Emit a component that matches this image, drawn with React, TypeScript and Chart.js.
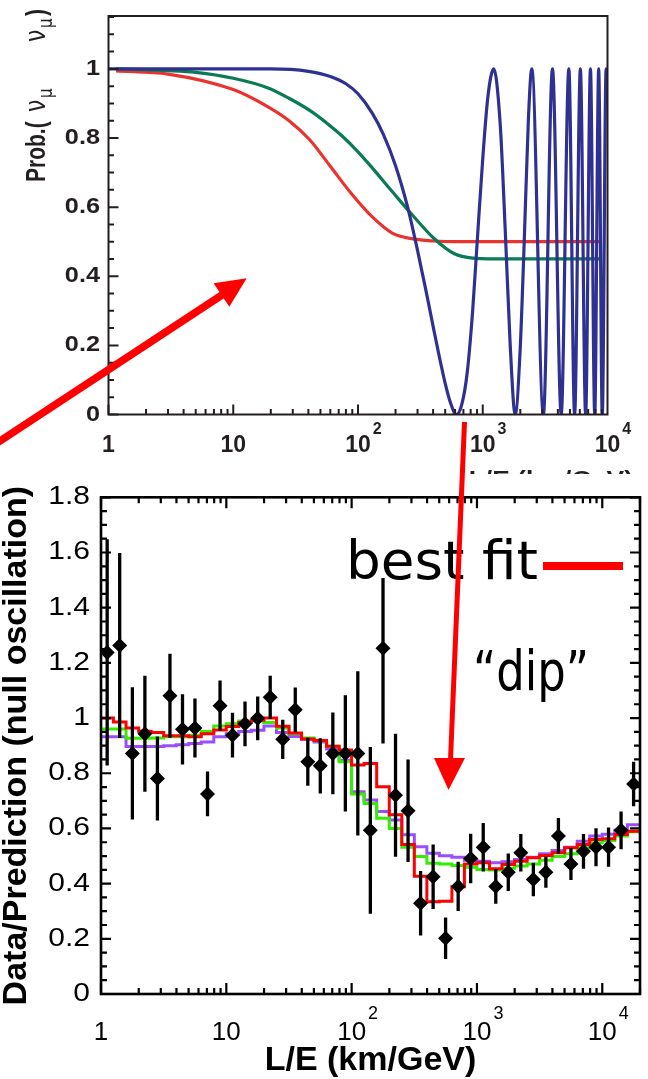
import React, { useEffect, useRef } from 'react';
import { Chart, registerables } from 'chart.js';

Chart.register(...registerables);

// ================= Upper panel: survival probability vs L/E =================
const BLUE_LE = [1, 20, 40, 60, 80, 100, 130, 160, 200, 250, 300, 350, 400, 450, 500, 550, 615, 680, 750, 830, 910, 1000, 1100, 1225, 1380, 1520, 1660, 1821, 1990, 2150, 2320, 2473, 3062, 3622, 4255, 4900, 5450, 6060, 6680, 7300, 7900, 8500, 9080, 9750, 10000];
const BLUE_P = [1, 1, 0.993, 0.978, 0.957, 0.928, 0.872, 0.81, 0.72, 0.6, 0.475, 0.36, 0.255, 0.165, 0.09, 0.035, 0, 0.03, 0.12, 0.3, 0.52, 0.74, 0.92, 1, 0.84, 0.52, 0.2, 0, 0.18, 0.5, 0.85, 1, 0, 1, 0, 1, 0, 1, 0, 1, 0, 1, 0, 1, 0.95];

const GREEN_LE = [1.15, 3, 5, 10, 19, 28, 43, 60, 75, 100, 129, 188, 276, 405, 593, 870, 1500, 8600];
const GREEN_P = [1, 0.995, 0.99, 0.973, 0.945, 0.915, 0.875, 0.835, 0.805, 0.76, 0.715, 0.645, 0.575, 0.51, 0.465, 0.452, 0.45, 0.45];

const RED_LE = [1.15, 3, 10, 19, 28, 41, 60, 88, 129, 188, 276, 405, 600, 8600];
const RED_P = [0.994, 0.985, 0.94, 0.89, 0.85, 0.795, 0.718, 0.64, 0.573, 0.525, 0.508, 0.502, 0.5, 0.5];

const TOP_Y_TICKS = [0, 0.2, 0.4, 0.6, 0.8, 1];
const TOP_Y_LABELS = ['0', '0.2', '0.4', '0.6', '0.8', '1'];
const DECADES = [1, 10, 100, 1000, 10000];
const DECADE_BASE = ['1', '10', '10', '10', '10'];
const DECADE_EXP = ['', '', '2', '3', '4'];

// ================= Lower panel: Data / Prediction (null oscillation) =================
const BIN_LE = [1.12, 1.41, 1.78, 2.24, 2.82, 3.55, 4.47, 5.62, 7.08, 8.91, 11.2, 14.1, 17.8, 22.4, 28.2, 35.5, 44.7, 56.2, 70.8, 89.1, 112, 141, 178, 224, 282, 355, 447, 562, 708, 891, 1122, 1413, 1778, 2239, 2818, 3548, 4467, 5623, 7079, 8913, 11220, 14125, 17783];
const DATA_RATIO = [1.238, 1.263, 0.872, 0.943, 0.781, 1.081, 0.959, 0.964, 0.725, 1.045, 0.938, 0.979, 0.999, 1.075, 0.923, 1.03, 0.842, 0.827, 0.872, 0.872, 0.872, 0.593, 1.253, 0.72, 0.664, 0.329, 0.425, 0.202, 0.39, 0.491, 0.532, 0.39, 0.441, 0.512, 0.415, 0.441, 0.573, 0.471, 0.517, 0.532, 0.532, 0.593, 0.761];
const DATA_ERR = [0.41, 0.335, 0.24, 0.21, 0.152, 0.152, 0.127, 0.107, 0.081, 0.091, 0.081, 0.081, 0.079, 0.078, 0.071, 0.081, 0.087, 0.1, 0.148, 0.211, 0.298, 0.302, 0.345, 0.223, 0.186, 0.117, 0.117, 0.075, 0.089, 0.09, 0.088, 0.063, 0.068, 0.068, 0.061, 0.056, 0.065, 0.058, 0.063, 0.069, 0.071, 0.068, 0.081];
const FIT_RED = [1.0, 0.986, 0.964, 0.952, 0.948, 0.936, 0.936, 0.932, 0.943, 0.957, 0.969, 0.984, 0.992, 1.0, 0.97, 0.946, 0.924, 0.919, 0.898, 0.884, 0.83, 0.835, 0.751, 0.65, 0.542, 0.427, 0.334, 0.336, 0.389, 0.471, 0.476, 0.454, 0.469, 0.481, 0.494, 0.502, 0.512, 0.53, 0.542, 0.56, 0.563, 0.578, 0.59];
const FIT_GREEN = [0.96, 0.96, 0.927, 0.927, 0.928, 0.932, 0.932, 0.938, 0.951, 0.971, 0.979, 0.989, 0.989, 0.984, 0.964, 0.943, 0.928, 0.918, 0.898, 0.842, 0.725, 0.69, 0.637, 0.6, 0.532, 0.498, 0.474, 0.471, 0.466, 0.459, 0.451, 0.449, 0.456, 0.464, 0.471, 0.485, 0.498, 0.508, 0.53, 0.548, 0.556, 0.573, 0.588];
const FIT_PURPLE = [0.932, 0.932, 0.897, 0.897, 0.897, 0.9, 0.903, 0.908, 0.913, 0.932, 0.943, 0.951, 0.956, 0.971, 0.948, 0.933, 0.923, 0.913, 0.888, 0.847, 0.733, 0.703, 0.661, 0.631, 0.577, 0.534, 0.51, 0.501, 0.496, 0.485, 0.481, 0.476, 0.479, 0.487, 0.496, 0.508, 0.52, 0.532, 0.554, 0.573, 0.579, 0.593, 0.613];

const BOT_Y_TICKS = [0, 0.2, 0.4, 0.6, 0.8, 1, 1.2, 1.4, 1.6, 1.8];
const BOT_Y_LABELS = ['0', '0.2', '0.4', '0.6', '0.8', '1', '1.2', '1.4', '1.6', '1.8'];

const LE_MIN = 1;
const LE_MAX_TOP = 10000;
const LE_MAX_BOT = 20000;

type Pt = { x: number; y: number };
const pairs = (xs: number[], ys: number[]): Pt[] => xs.map((x, i) => ({ x, y: ys[i] }));
const histo = (vals: number[]): Pt[] => [
  { x: LE_MIN, y: vals[0] },
  ...pairs(BIN_LE, vals),
  { x: LE_MAX_BOT, y: vals[vals.length - 1] },
];

const SANS = '"Liberation Sans", Arial, sans-serif';

function drawText(ctx: any, s: string, x: number, y: number, font: string, align: string, baseline: string, sx = 1, color = '#000') {
  ctx.save();
  ctx.translate(x, y);
  ctx.scale(sx, 1);
  ctx.font = font;
  ctx.textAlign = align;
  ctx.textBaseline = baseline;
  ctx.fillStyle = color;
  ctx.fillText(s, 0, 0);
  ctx.restore();
}

function drawDecadeLabel(ctx: any, base: string, exp: string, px: number, baseY: number, font: string, expFont: string, expDy: number, color: string) {
  drawText(ctx, base, px, baseY, font, 'center', 'alphabetic', 1, color);
  if (exp) {
    ctx.save();
    ctx.font = font;
    const w = ctx.measureText(base).width;
    ctx.restore();
    drawText(ctx, exp, px + w / 2 + 2, baseY - expDy, expFont, 'left', 'alphabetic', 1, color);
  }
}

const topFrame = {
  id: 'topFrame',
  afterDraw(chart: any) {
    const { ctx, chartArea: a } = chart;
    const xs = chart.scales.x;
    const ys = chart.scales.y;
    const col = '#231f20';
    ctx.save();
    ctx.strokeStyle = col;
    ctx.lineWidth = 2;
    ctx.beginPath();
    for (let i = 0; i * 0.05 <= 1.151; i++) {
      const py = ys.getPixelForValue(i * 0.05);
      const len = i % 4 === 0 ? 10 : 5.5;
      ctx.moveTo(a.left, py);
      ctx.lineTo(a.left + len, py);
    }
    for (let d = 1; d < LE_MAX_TOP; d *= 10) {
      for (let m = 1; m <= 9; m++) {
        const px = xs.getPixelForValue(d * m);
        const len = m === 1 ? 10 : 5.5;
        ctx.moveTo(px, a.bottom);
        ctx.lineTo(px, a.bottom - len);
      }
    }
    ctx.stroke();
    ctx.strokeRect(a.left, a.top, a.right - a.left, a.bottom - a.top);
    ctx.restore();

    TOP_Y_TICKS.forEach((v, i) =>
      drawText(ctx, TOP_Y_LABELS[i], 100, ys.getPixelForValue(v), `bold 22px ${SANS}`, 'right', 'middle', 1.15, col)
    );
    DECADES.forEach((v, i) =>
      drawDecadeLabel(ctx, DECADE_BASE[i], DECADE_EXP[i], xs.getPixelForValue(v), 452, `bold 23px ${SANS}`, `bold 16px ${SANS}`, 18, col)
    );
    // x title (mostly hidden under the lower panel)
    drawText(ctx, 'L/E (km/GeV)', 633, 486, `bold 22px ${SANS}`, 'right', 'alphabetic', 1.2, col);

    // y title: Prob.(ν_μ → ν_μ) (the arrow is not rendered in the original)
    ctx.save();
    ctx.translate(45, 182);
    ctx.rotate(-Math.PI / 2);
    ctx.scale(1, 1.3);
    ctx.fillStyle = col;
    ctx.textAlign = 'left';
    ctx.textBaseline = 'alphabetic';
    ctx.font = `bold 21px ${SANS}`;
    ctx.fillText('Prob.(', 0, 0);
    ctx.font = '22px "DejaVu Sans", sans-serif';
    ctx.fillText('ν', 70, 0);
    ctx.font = '15px "DejaVu Sans", sans-serif';
    ctx.fillText('μ', 84, 5);
    ctx.font = '22px "DejaVu Sans", sans-serif';
    ctx.fillText('ν', 140, 0);
    ctx.font = '15px "DejaVu Sans", sans-serif';
    ctx.fillText('μ', 154, 5);
    ctx.font = `bold 21px ${SANS}`;
    ctx.fillText(')', 166, 0);
    ctx.restore();
  },
};

const botFrame = {
  id: 'botFrame',
  beforeDatasetDraw(chart: any, args: any) {
    if (args.index !== 0) return;
    const { ctx, chartArea: a } = chart;
    const xs = chart.scales.x;
    const ys = chart.scales.y;
    ctx.save();
    ctx.beginPath();
    ctx.rect(a.left, a.top, a.right - a.left, a.bottom - a.top);
    ctx.clip();
    ctx.strokeStyle = '#000';
    ctx.lineWidth = 3.3;
    ctx.beginPath();
    BIN_LE.forEach((le, i) => {
      const px = xs.getPixelForValue(le);
      ctx.moveTo(px, ys.getPixelForValue(DATA_RATIO[i] - DATA_ERR[i]));
      ctx.lineTo(px, ys.getPixelForValue(DATA_RATIO[i] + DATA_ERR[i]));
    });
    ctx.stroke();
    ctx.restore();
  },
  afterDraw(chart: any) {
    const { ctx, chartArea: a } = chart;
    const xs = chart.scales.x;
    const ys = chart.scales.y;
    ctx.save();
    ctx.strokeStyle = '#000';
    ctx.lineWidth = 2.2;
    ctx.beginPath();
    for (let i = 0; i * 0.05 <= 1.801; i++) {
      const py = ys.getPixelForValue(i * 0.05);
      const len = i % 4 === 0 ? 10 : 6;
      ctx.moveTo(a.left, py);
      ctx.lineTo(a.left + len, py);
      ctx.moveTo(a.right, py);
      ctx.lineTo(a.right - len, py);
    }
    for (let d = 1; d <= LE_MAX_BOT; d *= 10) {
      for (let m = 1; m <= 9; m++) {
        const v = d * m;
        if (v > LE_MAX_BOT) break;
        const px = xs.getPixelForValue(v);
        const len = m === 1 ? 11 : 6;
        ctx.moveTo(px, a.bottom);
        ctx.lineTo(px, a.bottom - len);
        ctx.moveTo(px, a.top);
        ctx.lineTo(px, a.top + len);
      }
    }
    ctx.stroke();
    ctx.lineWidth = 2.6;
    ctx.strokeRect(a.left, a.top, a.right - a.left, a.bottom - a.top);
    ctx.restore();

    BOT_Y_TICKS.forEach((v, i) =>
      drawText(ctx, BOT_Y_LABELS[i], 90, ys.getPixelForValue(v), `25px ${SANS}`, 'right', 'middle', 1.2, '#000')
    );
    DECADES.forEach((v, i) =>
      drawDecadeLabel(ctx, DECADE_BASE[i], DECADE_EXP[i], xs.getPixelForValue(v), 566, `26px ${SANS}`, `18px ${SANS}`, 21.5, '#000')
    );
    drawText(ctx, 'L/E (km/GeV)', (a.left + a.right) / 2, 596, `bold 34px ${SANS}`, 'center', 'alphabetic', 1, '#000');

    ctx.save();
    ctx.translate(26, (a.top + a.bottom) / 2);
    ctx.rotate(-Math.PI / 2);
    ctx.font = `bold 34px ${SANS}`;
    ctx.textAlign = 'center';
    ctx.textBaseline = 'alphabetic';
    ctx.fillStyle = '#000';
    ctx.fillText('Data/Prediction (null oscillation)', 0, 0);
    ctx.restore();
  },
};

export default function App() {
  const topRef = useRef<HTMLCanvasElement>(null);
  const botRef = useRef<HTMLCanvasElement>(null);

  useEffect(() => {
    const lineDs = (data: Pt[], color: string) => ({
      data,
      borderColor: color,
      borderWidth: 3.2,
      pointRadius: 0,
      fill: false,
      cubicInterpolationMode: 'monotone',
    });
    const top = new Chart(topRef.current as HTMLCanvasElement, {
      type: 'line',
      data: {
        datasets: [
          lineDs(pairs(BLUE_LE, BLUE_P), '#2f3192'),
          lineDs(pairs(GREEN_LE, GREEN_P), '#0b7a55'),
          lineDs(pairs(RED_LE, RED_P), '#e8332f'),
        ] as any,
      },
      options: {
        responsive: false,
        animation: false,
        devicePixelRatio: 1,
        events: [],
        layout: { padding: { left: 108.5, right: 40.5, top: 16, bottom: 65.5 } },
        scales: {
          x: { type: 'logarithmic', min: LE_MIN, max: LE_MAX_TOP, display: false },
          y: { type: 'linear', min: 0, max: 1.153, display: false },
        },
        plugins: { legend: { display: false }, tooltip: { enabled: false } },
      } as any,
      plugins: [topFrame],
    });

    const histDs = (vals: number[], color: string) => ({
      data: histo(vals),
      stepped: 'middle',
      borderColor: color,
      borderWidth: 3,
      pointRadius: 0,
      fill: false,
    });
    const bot = new Chart(botRef.current as HTMLCanvasElement, {
      type: 'line',
      data: {
        datasets: [
          {
            data: pairs(BIN_LE, DATA_RATIO),
            showLine: false,
            pointStyle: 'rectRot',
            pointRadius: 7.5,
            pointBackgroundColor: '#000',
            pointBorderColor: '#000',
            pointBorderWidth: 0,
          },
          histDs(FIT_RED, '#ff0000'),
          histDs(FIT_GREEN, '#33ee00'),
          histDs(FIT_PURPLE, '#9a4dff'),
        ] as any,
      },
      options: {
        responsive: false,
        animation: false,
        devicePixelRatio: 1,
        events: [],
        layout: { padding: { left: 101, right: 8, top: 23.3, bottom: 85 } },
        scales: {
          x: { type: 'logarithmic', min: LE_MIN, max: LE_MAX_BOT, display: false },
          y: { type: 'linear', min: 0, max: 1.8, display: false },
        },
        plugins: { legend: { display: false }, tooltip: { enabled: false } },
      } as any,
      plugins: [botFrame],
    });

    return () => {
      top.destroy();
      bot.destroy();
    };
  }, []);

  const comic = '"DejaVu Sans", sans-serif';
  return (
    <div style={{ position: 'absolute', left: 0, top: 0, width: 648, height: 1079, background: '#fff', overflow: 'hidden' }}>
      <canvas ref={topRef} width={648} height={480} style={{ position: 'absolute', left: 0, top: 0, width: 648, height: 480 }} />
      <canvas ref={botRef} width={648} height={605} style={{ position: 'absolute', left: 0, top: 474, width: 648, height: 605, background: '#fff' }} />
      <svg width={648} height={1079} style={{ position: 'absolute', left: 0, top: 0, pointerEvents: 'none' }}>
        <rect x={343} y={533} width={198} height={45} fill="#fff" />
        <text x={346} y={579} fontFamily={comic} fontSize={54} textLength={192} lengthAdjust="spacingAndGlyphs" fill="#000">best fit</text>
        <line x1={543} y1={566} x2={623} y2={566} stroke="#ff0000" strokeWidth={8} />
        <text x={473} y={690} fontFamily={comic} fontSize={56} textLength={116} lengthAdjust="spacingAndGlyphs" fill="#000">“dip”</text>
        <line x1={-10} y1={447.6} x2={222} y2={295} stroke="#ff0000" strokeWidth={7.5} />
        <polygon points="246.7,278.3 213.6,283.3 229.3,306.7" fill="#ff0000" />
        <line x1={464.5} y1={422} x2={450.5} y2={760} stroke="#ff0000" strokeWidth={5} />
        <polygon points="434,758 465,758 448.5,790" fill="#ff0000" />
      </svg>
    </div>
  );
}
